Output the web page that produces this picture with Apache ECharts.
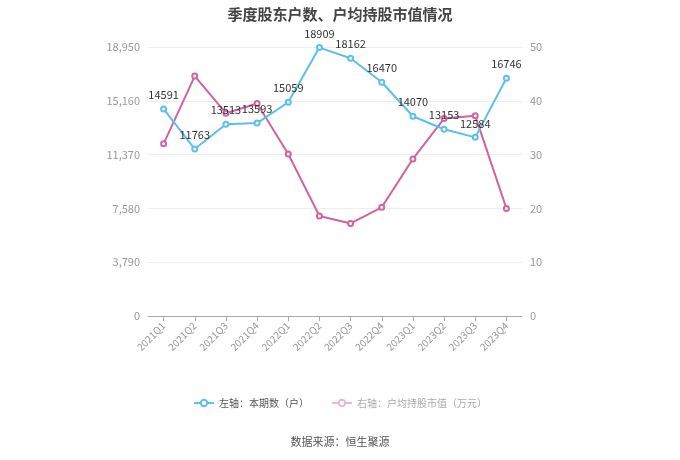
<!DOCTYPE html>
<html><head><meta charset="utf-8">
<script src="https://cdn.jsdelivr.net/npm/echarts@6/dist/echarts.min.js"></script>
<style>html,body{margin:0;padding:0;background:#fff}#c{width:680px;height:460px}</style>
</head><body><div id="c"></div>
<script>
var categories = ['2021Q1','2021Q2','2021Q3','2021Q4','2022Q1','2022Q2','2022Q3','2022Q4','2023Q1','2023Q2','2023Q3','2023Q4'];
var holders = [14591,11763,13513,13593,15059,18909,18162,16470,14070,13153,12584,16746];
var avgValue = [32.0,44.6,37.7,39.5,30.1,18.6,17.2,20.2,29.2,36.7,37.2,20.0];
var leftTicks = [0,3790,7580,11370,15160,18950];
var rightTicks = [0,10,20,30,40,50];
var FONT = '"Microsoft YaHei","Noto Sans CJK SC",sans-serif';
var chart = echarts.init(document.getElementById('c'));
chart.setOption({
  animation:false,
  title:{text:'季度股东户数、户均持股市值情况',left:'center',top:2,textStyle:{fontSize:15,fontWeight:'bold',color:'#444',fontFamily:FONT}},
  grid:{left:148,right:158,top:47,bottom:144},
  legend:{bottom:47,left:'center',itemGap:22,itemWidth:20,itemHeight:8,textStyle:{fontSize:10,color:'#555',fontFamily:FONT},
    data:[{name:'左轴：本期数（户）'},{name:'右轴：户均持股市值（万元）',textStyle:{color:'#aaa'},itemStyle:{color:'#eab6d2'},lineStyle:{color:'#eab6d2'}}]},
  graphic:[{type:'text',left:'center',top:436,style:{text:'数据来源：恒生聚源',fontSize:11,fill:'#555',fontFamily:FONT}}],
  xAxis:{type:'category',data:categories,boundaryGap:true,
    axisLine:{lineStyle:{color:'#aaa'}},axisTick:{show:true,alignWithLabel:true,lineStyle:{color:'#aaa'}},
    axisLabel:{rotate:45,fontSize:10,color:'#999',interval:0,fontFamily:FONT}},
  yAxis:[
    {type:'value',min:leftTicks[0],max:leftTicks[leftTicks.length-1],interval:3790,
      axisLine:{show:false},axisTick:{show:false},
      axisLabel:{color:'#999',fontSize:11,fontFamily:FONT,formatter:function(v){return v.toLocaleString('en-US');}},
      splitLine:{lineStyle:{color:'#eee'}}},
    {type:'value',min:rightTicks[0],max:rightTicks[rightTicks.length-1],interval:10,
      axisLine:{show:false},axisTick:{show:false},
      axisLabel:{color:'#999',fontSize:11,fontFamily:FONT},splitLine:{show:false}}
  ],
  series:[
    {name:'左轴：本期数（户）',type:'line',yAxisIndex:0,data:holders,symbol:'emptyCircle',symbolSize:5,
      itemStyle:{color:'#5bc0ee'},lineStyle:{width:2,color:'#5bc0ee'},
      label:{show:true,position:'top',color:'#333',fontSize:11,fontFamily:FONT},z:3},
    {name:'右轴：户均持股市值（万元）',type:'line',yAxisIndex:1,data:avgValue,symbol:'emptyCircle',symbolSize:5,
      itemStyle:{color:'#d0649f'},lineStyle:{width:2,color:'#d0649f'},z:2}
  ]
});
</script></body></html>
